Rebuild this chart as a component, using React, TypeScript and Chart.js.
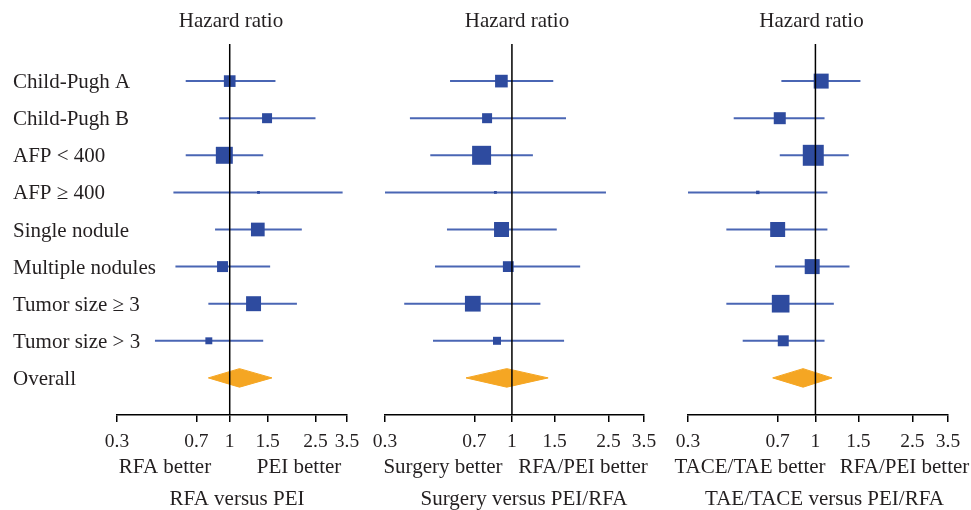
import React, { useEffect, useRef } from 'react';
import { Chart, registerables } from 'chart.js';
Chart.register(...registerables);

const subgroups = ['Child-Pugh A', 'Child-Pugh B', 'AFP < 400', 'AFP ≥ 400', 'Single nodule', 'Multiple nodules', 'Tumor size ≥ 3', 'Tumor size > 3'];
const overallLabel = 'Overall';
const xTicks = [0.3, 0.7, 1, 1.5, 2.5, 3.5];

// RFA versus PEI
const rfaPeiHR = [1.0, 1.49, 0.944, 1.36, 1.35, 0.926, 1.29, 0.8];
const rfaPeiLow = [0.625, 0.895, 0.625, 0.548, 0.855, 0.56, 0.796, 0.45];
const rfaPeiHigh = [1.63, 2.5, 1.43, 3.34, 2.16, 1.54, 2.05, 1.43];
const rfaPeiWeight = [34, 25, 72, 2, 47, 30, 56, 12];
const rfaPeiOverall = [0.796, 1.11, 1.57];

// Surgery versus PEI/RFA
const surgHR = [0.905, 0.79, 0.75, 0.855, 0.906, 0.966, 0.69, 0.868];
const surgLow = [0.556, 0.38, 0.461, 0.3, 0.54, 0.482, 0.36, 0.473];
const surgHigh = [1.48, 1.67, 1.22, 2.44, 1.53, 1.91, 1.31, 1.64];
const surgWeight = [40, 25, 90, 2, 56, 29, 62, 16];
const surgOverall = [0.647, 0.952, 1.41];

// TAE/TACE versus PEI/RFA
const taceHR = [1.056, 0.714, 0.98, 0.58, 0.7, 0.97, 0.72, 0.738];
const taceLow = [0.725, 0.462, 0.714, 0.3, 0.431, 0.683, 0.431, 0.503];
const taceHigh = [1.53, 1.09, 1.37, 1.12, 1.12, 1.38, 1.19, 1.09];
const taceWeight = [56, 36, 110, 3, 56, 56, 78, 30];
const taceOverall = [0.668, 0.89, 1.17];

const FONT = "'Liberation Serif', 'Times New Roman', serif";
const TEXT = '#231f20';
const SQUARE = '#2e4b9f';
const CI = '#4a66b4';
const DIAMOND = '#f5a623';

const W = 971;
const H = 510;

type Panel = {
  areaL: number;
  areaR: number;
  showLabels: boolean;
  hr: number[];
  low: number[];
  high: number[];
  weight: number[];
  overall: number[];
  titleX: number;
  leftLabel: string;
  leftX: number;
  rightLabel: string;
  rightX: number;
  caption: string;
  captionX: number;
};

const panels: Panel[] = [
  { areaL: 117, areaR: 347, showLabels: true, hr: rfaPeiHR, low: rfaPeiLow, high: rfaPeiHigh, weight: rfaPeiWeight, overall: rfaPeiOverall, titleX: 231, leftLabel: 'RFA better', leftX: 165, rightLabel: 'PEI better', rightX: 299, caption: 'RFA versus PEI', captionX: 237 },
  { areaL: 385, areaR: 644, showLabels: false, hr: surgHR, low: surgLow, high: surgHigh, weight: surgWeight, overall: surgOverall, titleX: 517, leftLabel: 'Surgery better', leftX: 443, rightLabel: 'RFA/PEI better', rightX: 583, caption: 'Surgery versus PEI/RFA', captionX: 524 },
  { areaL: 688, areaR: 948, showLabels: false, hr: taceHR, low: taceLow, high: taceHigh, weight: taceWeight, overall: taceOverall, titleX: 811.5, leftLabel: 'TACE/TAE better', leftX: 750, rightLabel: 'RFA/PEI better', rightX: 904.5, caption: 'TAE/TACE versus PEI/RFA', captionX: 824.5 },
];

function ForestPanel({ p }: { p: Panel }) {
  const ref = useRef<HTMLCanvasElement | null>(null);
  useEffect(() => {
    if (!ref.current) return;
    const rowLabels = [...subgroups, overallLabel];
    const oy = subgroups.length;
    const datasets: any[] = [];
    datasets.push({
      data: [{ x: 1, y: -1 }, { x: 1, y: 9 }],
      showLine: true, borderColor: '#000', borderWidth: 1.5, pointRadius: 0,
    });
    datasets.push({
      data: p.hr.map((v, i) => ({ x: v, y: i })),
      pointStyle: 'rect',
      pointRadius: p.weight.map((w) => (20 * Math.sqrt(w / 100)) / Math.SQRT2),
      backgroundColor: SQUARE, borderColor: SQUARE, borderWidth: 0,
    });
    p.hr.forEach((_, i) => {
      datasets.push({
        data: [{ x: p.low[i], y: i }, { x: p.high[i], y: i }],
        showLine: true, borderColor: CI, borderWidth: 2, pointRadius: 0,
      });
    });
    datasets.push({
      data: [
        { x: p.overall[0], y: oy },
        { x: p.overall[1], y: oy - 0.25 },
        { x: p.overall[2], y: oy },
        { x: p.overall[1], y: oy + 0.25 },
        { x: p.overall[0], y: oy },
      ],
      showLine: true, fill: 'shape', backgroundColor: DIAMOND, borderColor: DIAMOND, borderWidth: 1, pointRadius: 0, tension: 0,
    });

    const textPlugin = {
      id: 'panelText',
      afterDraw(chart: any) {
        const ctx = chart.ctx;
        ctx.save();
        ctx.fillStyle = TEXT;
        ctx.textBaseline = 'alphabetic';
        ctx.font = `21px ${FONT}`;
        if (p.showLabels) {
          ctx.textAlign = 'left';
          const ys = chart.scales.y;
          rowLabels.forEach((lab, i) => {
            ctx.fillText(lab, 13, ys.getPixelForValue(i) + 7);
          });
        }
        ctx.textAlign = 'center';
        ctx.fillText('Hazard ratio', p.titleX, 27);
        ctx.fillText(p.leftLabel, p.leftX, 473);
        ctx.fillText(p.rightLabel, p.rightX, 473);
        ctx.fillText(p.caption, p.captionX, 505);
        ctx.restore();
      },
    };

    const chart = new Chart(ref.current, {
      type: 'scatter',
      data: { datasets },
      plugins: [textPlugin],
      options: {
        animation: false,
        responsive: false,
        devicePixelRatio: 1,
        events: [],
        layout: { padding: { left: p.areaL, right: W - p.areaR, top: 44, bottom: 0 } },
        plugins: { legend: { display: false }, tooltip: { enabled: false } },
        scales: {
          x: {
            type: 'logarithmic',
            min: 0.3,
            max: 3.5,
            afterBuildTicks: (s: any) => { s.ticks = xTicks.map((v) => ({ value: v })); },
            afterFit: (s: any) => { s.height = H - 415; },
            ticks: {
              callback: (v: any) => String(v),
              font: { family: FONT, size: 19.5 },
              color: TEXT,
              maxRotation: 0,
              autoSkip: false,
              padding: 8,
            },
            grid: { display: true, drawOnChartArea: false, drawTicks: true, tickLength: 7, color: '#000', lineWidth: 1.5 },
            border: { display: true, color: '#000', width: 1.5 },
          },
          y: {
            type: 'linear',
            display: false,
            reverse: true,
            min: -1,
            max: 9,
            afterFit: (s: any) => { s.width = 0; },
            grid: { display: false },
            border: { display: false },
          },
        },
      } as any,
    });
    return () => chart.destroy();
  }, [p]);
  return (
    <canvas
      ref={ref}
      width={W}
      height={H}
      style={{ position: 'absolute', left: 0, top: 0, width: W, height: H }}
    />
  );
}

export default function App() {
  return (
    <div style={{ position: 'absolute', left: 0, top: 0, width: W, height: H, background: '#fff' }}>
      {panels.map((p, i) => (
        <ForestPanel key={i} p={p} />
      ))}
    </div>
  );
}
